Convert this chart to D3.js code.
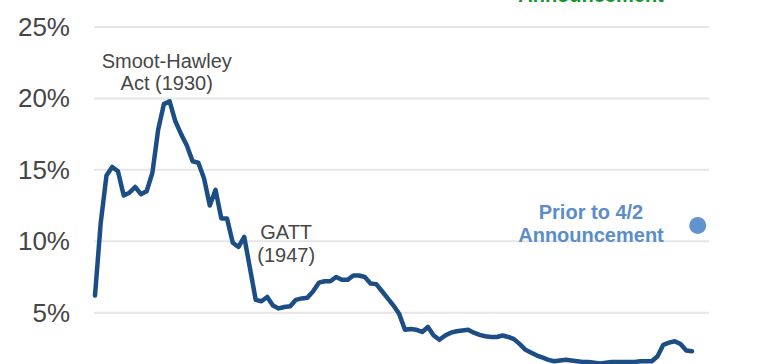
<!DOCTYPE html>
<html>
<head>
<meta charset="utf-8">
<script src="https://cdn.jsdelivr.net/npm/d3@7"></script>
<style>
  html, body { margin: 0; padding: 0; background: #fff; }
  svg { display: block; font-family: "Liberation Sans", Arial, sans-serif; }
</style>
</head>
<body>
<svg id="chart" width="764" height="364"></svg>
<script>
// ---- data ----
const startYear = 1920;
const tariffRate = [
  6.2, 11.3, 14.6, 15.2, 14.9, 13.2, 13.4, 13.8, 13.3, 13.5,   // 1920-1929
  14.8, 17.8, 19.6, 19.8, 18.4, 17.5, 16.7, 15.6, 15.5, 14.4,  // 1930-1939
  12.5, 13.6, 11.6, 11.6, 9.9, 9.6, 10.3, 8.1, 5.9, 5.8,       // 1940-1949
  6.1, 5.5, 5.3, 5.4, 5.45, 5.9, 6.0, 6.05, 6.5, 7.1,          // 1950-1959
  7.2, 7.2, 7.5, 7.3, 7.3, 7.6, 7.6, 7.5, 7.05, 7.0,           // 1960-1969
  6.5, 6.0, 5.5, 4.9, 3.8, 3.85, 3.8, 3.65, 4.0, 3.4,          // 1970-1979
  3.1, 3.4, 3.6, 3.7, 3.75, 3.8, 3.6, 3.45, 3.35, 3.3,         // 1980-1989
  3.3, 3.4, 3.3, 3.15, 2.8, 2.4, 2.2, 2.0, 1.85, 1.7,          // 1990-1999
  1.6, 1.65, 1.7, 1.65, 1.6, 1.55, 1.55, 1.5, 1.45, 1.5,       // 2000-2009
  1.55, 1.55, 1.55, 1.55, 1.55, 1.6, 1.6, 1.6, 1.95, 2.75,     // 2010-2019
  2.9, 3.0, 2.8, 2.35, 2.3                                     // 2020-2024
];
const years = tariffRate.map((_, i) => startYear + i);
const priorPoint = { year: 2025, value: 11.1 };
const gridTicks = [0, 5, 10, 15, 20, 25];
const labelTicks = [5, 10, 15, 20, 25];
const annotations = [
  { year: 1932.5, value: 22.15, lines: ["Smoot-Hawley", "Act (1930)"] },
  { year: 1953.3, value: 10.15, lines: ["GATT", "(1947)"] }
];
const priorLabel = ["Prior to 4/2", "Announcement"];
const postLabel = ["Post 4/2", "Announcement"];

// ---- layout ----
const svg = d3.select("#chart");
const x = d3.scaleLinear().domain([1920, 2024]).range([95, 692]);
const y = d3.scaleLinear().domain([0, 25]).range([384.1, 27]);

// gridlines
svg.append("g")
  .selectAll("line")
  .data(gridTicks)
  .join("line")
  .attr("x1", 94).attr("x2", 709)
  .attr("y1", d => y(d)).attr("y2", d => y(d))
  .attr("stroke", "#e6e6e6")
  .attr("stroke-width", 2);

// y axis labels
const yAxis = d3.axisLeft(y).tickValues(labelTicks).tickFormat(d => d + "%").tickSize(0).tickPadding(0);
const gy = svg.append("g").attr("transform", "translate(70,0)").call(yAxis);
gy.select(".domain").remove();
gy.selectAll("text")
  .attr("fill", "#464646")
  .style("font-size", "26px")
  .style("font-family", "'Liberation Sans', Arial, sans-serif");

// line
const line = d3.line()
  .x((d, i) => x(years[i]))
  .y(d => y(d))
  .curve(d3.curveLinear);

svg.append("path")
  .datum(tariffRate)
  .attr("d", line)
  .attr("fill", "none")
  .attr("stroke", "#1c4e85")
  .attr("stroke-width", 4.5)
  .attr("stroke-linejoin", "round")
  .attr("stroke-linecap", "round");

// annotations
annotations.forEach(a => {
  const t = svg.append("text")
    .attr("text-anchor", "middle")
    .attr("fill", "#474747")
    .style("font-size", "20px");
  a.lines.forEach((s, i) => {
    t.append("tspan")
      .attr("x", x(a.year))
      .attr("y", y(a.value) + i * 22.5)
      .text(s);
  });
});

// prior-to point
svg.append("circle")
  .attr("cx", x(priorPoint.year))
  .attr("cy", y(priorPoint.value))
  .attr("r", 8.5)
  .attr("fill", "#6193d0");

const pt = svg.append("text")
  .attr("text-anchor", "middle")
  .attr("fill", "#5b8dca")
  .style("font-size", "20px")
  .style("font-weight", "bold");
priorLabel.forEach((s, i) => {
  pt.append("tspan").attr("x", 591).attr("y", 219 + i * 23).text(s);
});

// post label (mostly above the visible area, as in the reference crop)
const gt = svg.append("text")
  .attr("text-anchor", "middle")
  .attr("fill", "#12962a")
  .style("font-size", "20px")
  .style("font-weight", "bold");
postLabel.forEach((s, i) => {
  gt.append("tspan").attr("x", 591).attr("y", -21 + i * 23).text(s);
});
</script>
</body>
</html>
